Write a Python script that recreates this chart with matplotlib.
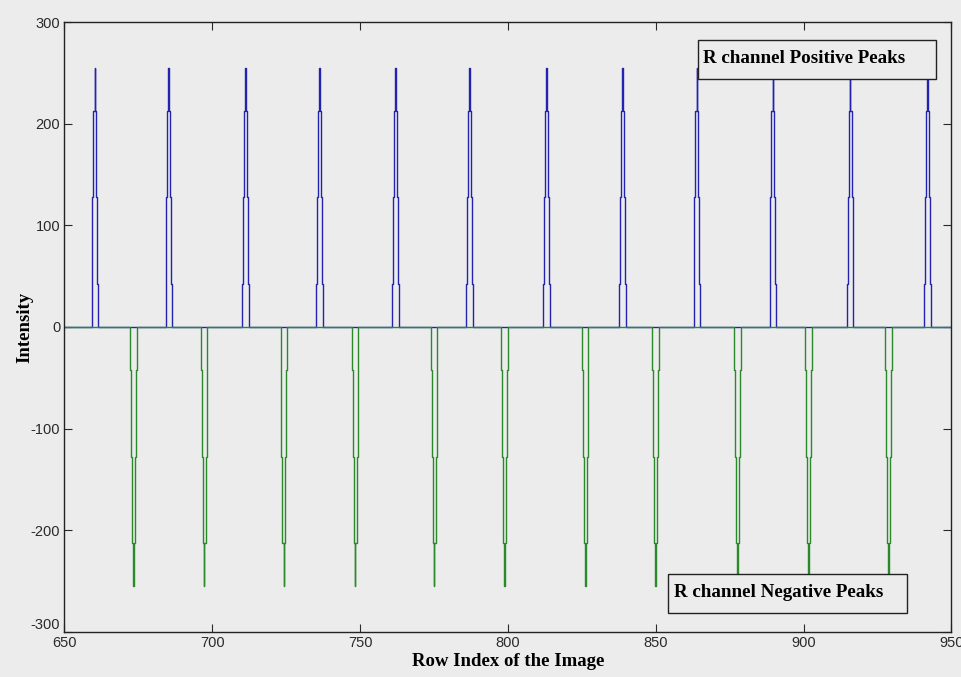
import numpy as np
import matplotlib.pyplot as plt

plt.rcParams["axes.unicode_minus"] = False

# peak centres
pos_peaks = [660.3, 685.3, 711.2, 736.2, 762.0, 787.0, 813.0, 838.8, 863.9, 889.6, 915.7, 941.9]
neg_peaks = [673.3, 697.2, 724.2, 748.3, 775.0, 798.9, 826.1, 849.9, 877.7, 901.7, 928.7]

# stepped peak profile: half widths (row units) and intensity levels
half_widths = [1.1, 0.85, 0.5, 0.12]
levels = [42.5, 127.5, 212.5, 255.0]

x_min, x_max = 650, 950


def peak_trace(centres, sign):
    """Build a stepped pulse for every centre, joined by a zero baseline."""
    xs, ys = [x_min], [0.0]
    for c in centres:
        left_x, left_y = [], []
        prev = 0.0
        for hw, lv in zip(half_widths, levels):
            left_x += [c - hw, c - hw]
            left_y += [prev, lv]
            prev = lv
        left_x.append(c)
        left_y.append(levels[-1])
        right_x = [2 * c - v for v in left_x[::-1]]
        right_y = left_y[::-1]
        xs += left_x + right_x[1:]
        ys += left_y + right_y[1:]
    xs.append(x_max)
    ys.append(0.0)
    return np.array(xs), sign * np.array(ys)


bg = "#ececec"
fig = plt.figure(figsize=(9.61, 6.77), dpi=100, facecolor=bg)
ax = fig.add_axes([0.0671, 0.0665, 0.923, 0.901], facecolor=bg)

bx, by = peak_trace(pos_peaks, 1)
gx, gy = peak_trace(neg_peaks, -1)
ax.plot(bx, by, color="#2323b0", lw=1.0)
ax.plot(gx, gy, color="#2a8a2a", lw=1.0)

ax.set_xlim(x_min, x_max)
ax.set_ylim(-300, 300)
ax.set_xticks(np.arange(650, 951, 50))
ax.set_yticks(np.arange(-300, 301, 100))
ax.tick_params(direction="in", length=6, top=True, right=True,
               labelsize=10.5, pad=3, colors="#2a2a2a")
for lab in ax.get_xticklabels() + ax.get_yticklabels():
    lab.set_family("Liberation Sans")
# bottom y label sits a little above the corner, as in the original
ax.yaxis.get_major_ticks()[0].label1.set_verticalalignment("bottom")
for sp in ax.spines.values():
    sp.set_linewidth(1.0)
    sp.set_color("#222222")

ax.set_xlabel("Row Index of the Image", family="Liberation Serif",
              fontweight="bold", fontsize=13.5, labelpad=2)
ax.set_ylabel("Intensity", family="Liberation Serif",
              fontweight="bold", fontsize=13.5, labelpad=-2)

ax.add_patch(plt.Rectangle((864.1, 243.6), 80.7, 38.4, facecolor=bg,
                           edgecolor="#222222", lw=1.0, zorder=3))
ax.text(866.0, 264.0, "R channel Positive Peaks", family="Liberation Serif",
        fontweight="bold", fontsize=13.7, va="center", ha="left", zorder=4)
ax.add_patch(plt.Rectangle((854.0, -281.6), 81.1, 38.6, facecolor=bg,
                           edgecolor="#222222", lw=1.0, zorder=3))
ax.text(856.0, -261.5, "R channel Negative Peaks", family="Liberation Serif",
        fontweight="bold", fontsize=13.7, va="center", ha="left", zorder=4)

fig.savefig("out.png", dpi=100, facecolor=bg)
